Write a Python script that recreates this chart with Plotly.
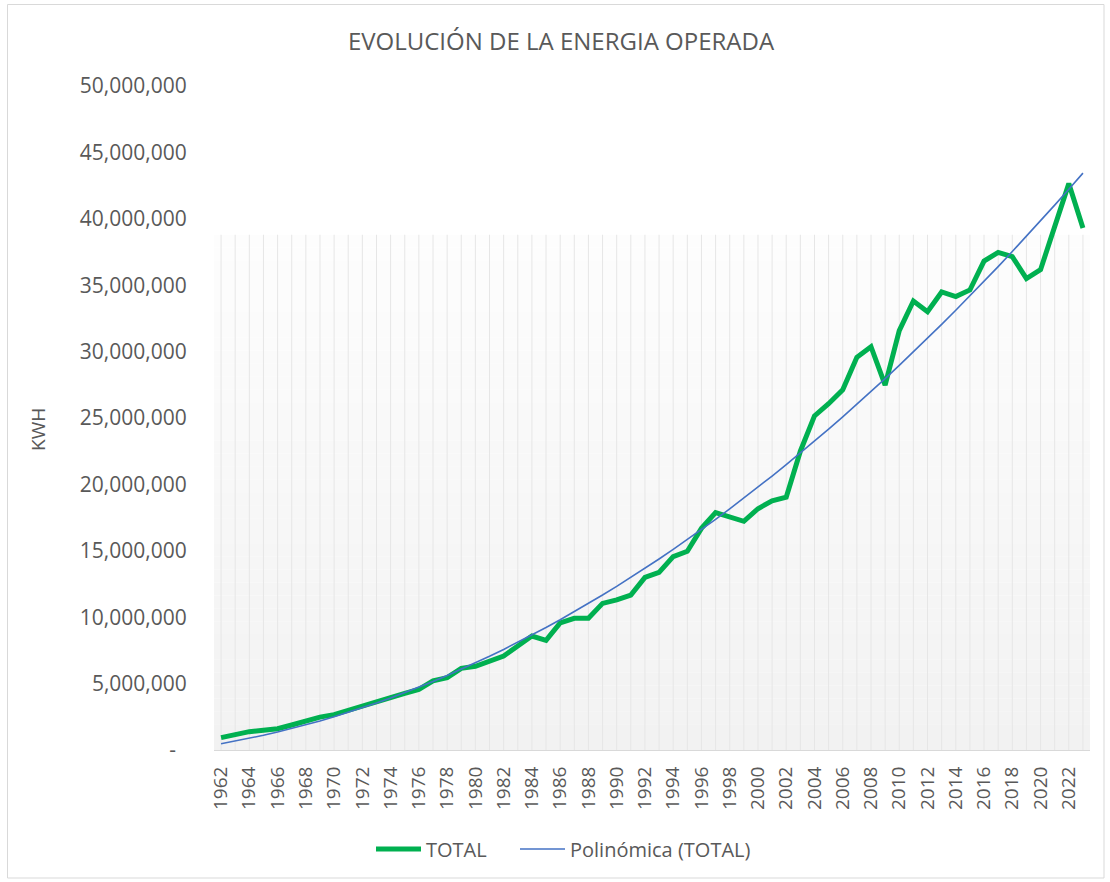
import numpy as np
import plotly.graph_objects as go

years = list(range(1962, 2024))
total_kwh = [
    930000, 1130000, 1380000, 1480000, 1600000, 1880000, 2210000, 2480000, 2660000, 3000000,
    3300000, 3600000, 3940000, 4270000, 4570000, 5200000, 5450000, 6150000, 6300000, 6700000,
    7080000, 7830000, 8580000, 8260000, 9570000, 9920000, 9920000, 11040000, 11300000, 11670000,
    13000000, 13380000, 14560000, 14960000, 16690000, 17870000, 17520000, 17220000, 18170000, 18770000,
    19030000, 22500000, 25160000, 26080000, 27130000, 29570000, 30370000, 27480000, 31580000, 33810000,
    33000000, 34490000, 34140000, 34640000, 36820000, 37470000, 37150000, 35500000, 36170000, 39450000,
    42650000, 39300000,
]
y_ticks = [0, 5000000, 10000000, 15000000, 20000000, 25000000, 30000000, 35000000, 40000000, 45000000, 50000000]
y_tick_text = ["-\u00a0\u00a0"] + [f"{v:,}" for v in y_ticks[1:]]
x_tick_text = [str(y) if y % 2 == 0 else "" for y in years]

title_text = "EVOLUCIÓN DE LA ENERGIA OPERADA"
series_name = "TOTAL"
trend_name = "Polinómica (TOTAL)"
y_title = "KWH"

# polynomial (order 2) trendline, as Excel computes it on index 1..n
idx = np.arange(1, len(years) + 1)
coef = np.polyfit(idx, np.array(total_kwh, dtype=float), 2)
trend = np.polyval(coef, idx)

FONT = "Open Sans"
GREY = "#595959"

# plot-area geometry in px
L, R, T, B = 214, 20, 86, 132
W, H = 1110, 882
PW, PH = W - L - R, H - T - B

def px_x(px):
    return (px - L) / PW

def px_y(py):
    return (H - B - py) / PH

fig = go.Figure()
fig.add_trace(go.Scatter(x=years, y=total_kwh, mode="lines", name=series_name,
                         line=dict(color="#00B050", width=5), legend="legend"))
fig.add_trace(go.Scatter(x=years, y=trend, mode="lines", name=trend_name,
                         line=dict(color="#4472C4", width=1.6), legend="legend2"))

shapes = []
# background gradient band
grad_top = 38800000
nb = 40
for i in range(nb):
    c = int(round(242 + (253 - 242) * i / (nb - 1)))
    shapes.append(dict(type="rect", xref="x", yref="y", x0=years[0] - 0.5, x1=years[-1] + 0.5,
                       y0=grad_top * i / nb, y1=grad_top * (i + 1) / nb,
                       fillcolor=f"rgb({c},{c},{c})", line=dict(width=0), layer="below"))
# vertical lines at each category
for yr in years:
    shapes.append(dict(type="line", xref="x", yref="y", x0=yr, x1=yr, y0=0, y1=grad_top,
                       line=dict(color="#e6e6e6", width=1), layer="below"))
# chart border
shapes.append(dict(type="rect", xref="paper", yref="paper",
                   x0=px_x(7.5), x1=px_x(1104), y0=px_y(878), y1=px_y(4.5),
                   line=dict(color="#d9d9d9", width=1), fillcolor="rgba(0,0,0,0)", layer="below"))

legend_common = dict(orientation="h", xanchor="left", y=px_y(849), yanchor="middle",
                     font=dict(size=20, color=GREY, family=FONT), itemwidth=45,
                     bgcolor="rgba(0,0,0,0)")

fig.update_layout(
    width=W, height=H,
    margin=dict(l=L, r=R, t=T, b=B),
    paper_bgcolor="white", plot_bgcolor="white",
    font=dict(family=FONT, color=GREY, size=19),
    title=dict(text=title_text, x=561 / W, xanchor="center", y=1 - 42 / H, yanchor="middle",
               font=dict(size=24, color=GREY, family=FONT)),
    showlegend=True,
    legend=dict(x=px_x(371), **legend_common),
    legend2=dict(x=px_x(515), **legend_common),
    shapes=shapes,
    annotations=[dict(text=y_title, xref="paper", yref="paper", x=px_x(38), y=px_y(430),
                      showarrow=False, textangle=-90, font=dict(size=19, color=GREY),
                      xanchor="center", yanchor="middle")],
)
fig.update_xaxes(range=[years[0] - 0.5, years[-1] + 0.5], tickmode="array", tickvals=years,
                 ticktext=x_tick_text, tickangle=-90, showgrid=False, zeroline=False,
                 showline=True, linecolor="#d9d9d9", linewidth=1,
                 ticks="outside", ticklen=8, tickcolor="rgba(0,0,0,0)",
                 tickfont=dict(size=19, color=GREY, family=FONT))
fig.update_yaxes(range=[0, 50000000], tickmode="array", tickvals=y_ticks, ticktext=y_tick_text,
                 showgrid=False, zeroline=False, showline=False,
                 ticks="outside", ticklen=22, tickcolor="rgba(0,0,0,0)",
                 tickfont=dict(size=21, color=GREY, family=FONT))

fig.write_html("out.html", config={"displayModeBar": False},
               post_script="document.body.style.margin='0px';document.body.style.overflow='hidden';")
